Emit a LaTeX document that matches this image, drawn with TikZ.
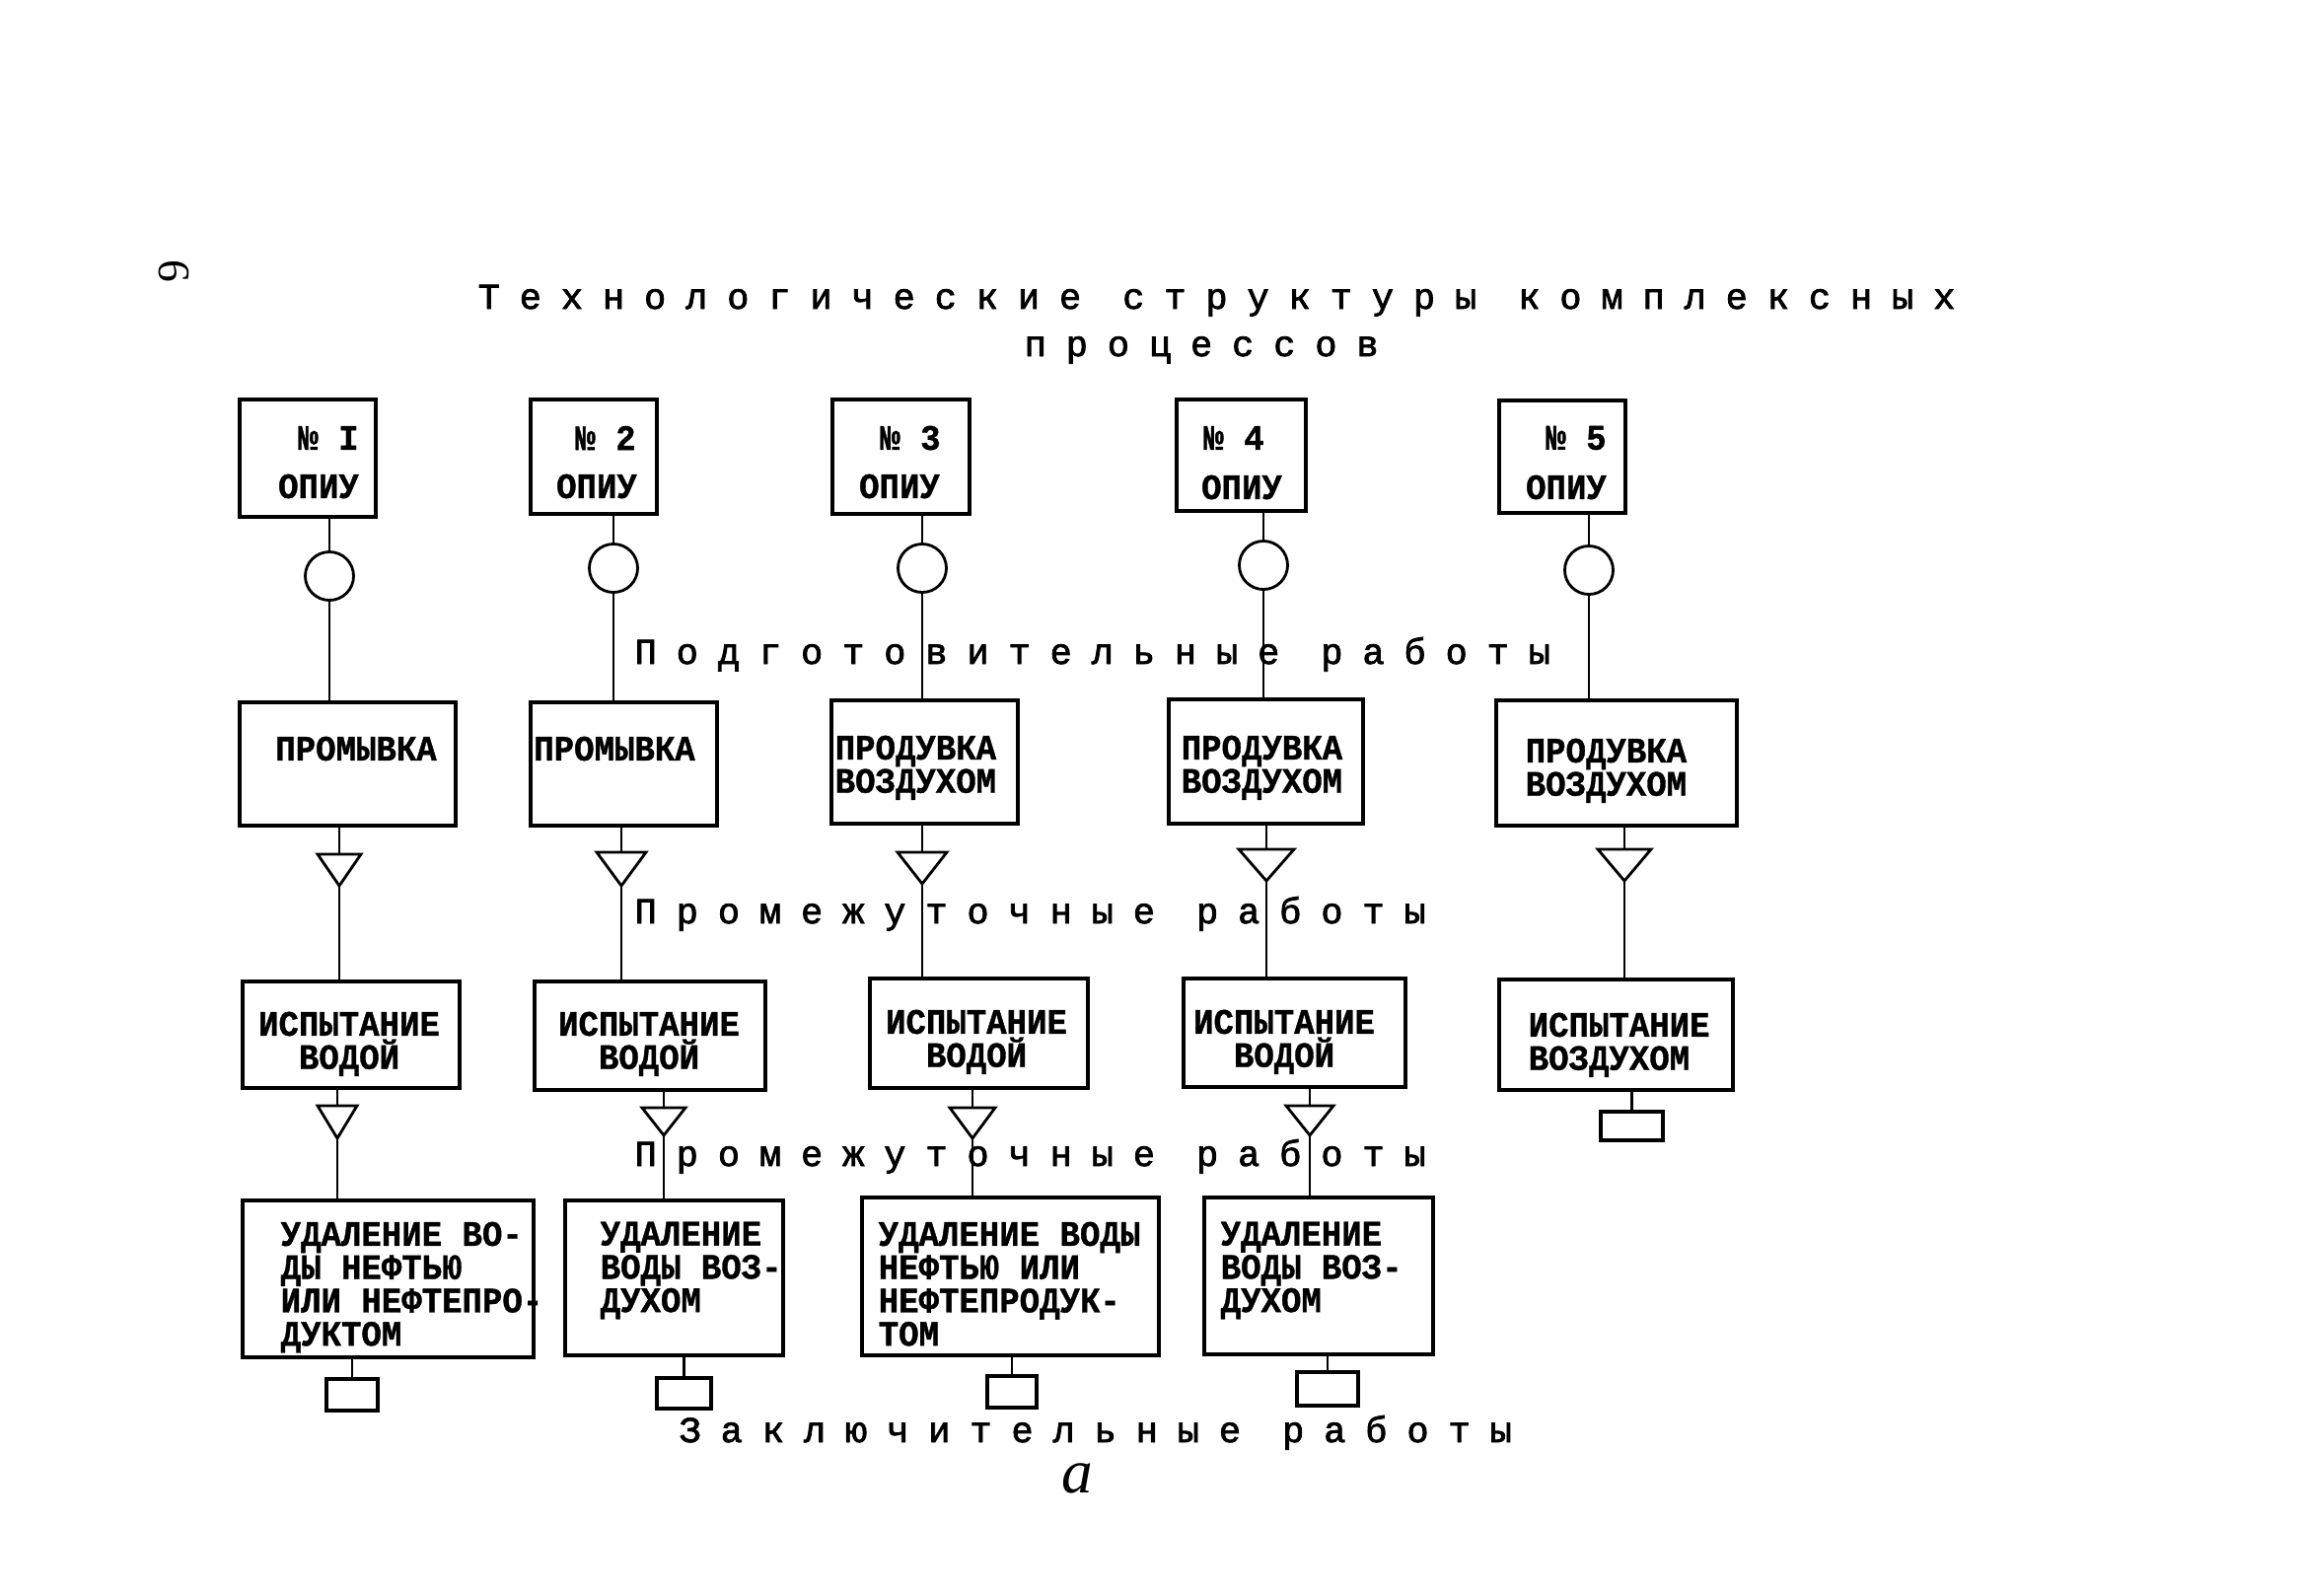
\documentclass[tikz,border=0pt]{standalone}
\usepackage{fontspec}
\setmainfont{Liberation Serif}
\newfontfamily\lbfont{Liberation Mono}[LetterSpace=54,FakeBold=2.2]
\newfontfamily\bxfont{Liberation Mono}[FakeStretch=0.94,FakeBold=1]
\newcommand{\bxsetup}{\bxfont\bfseries\fontsize{10.3}{9.6}\selectfont\setlength{\lineskiplimit}{-20pt}\setlength{\lineskip}{0pt}}
\newcommand{\trian}[5]{%
  \coordinate (#1t) at (#2,#3);
  \coordinate (#1b) at (#2,#4);
  \draw[triline] (#1t) ++(-#5,0) -- ++(2*#5,0) -- (#1b) -- cycle;
}
\begin{document}
\begin{tikzpicture}[x=0.01cm,y=-0.01cm,
  bx/.style={draw,line width=1.1pt,inner sep=0pt,rectangle},
  circ/.style={draw,circle,line width=0.8pt,minimum size=0.49cm,inner sep=0pt},
  triline/.style={line width=0.8pt,line join=miter},
  conn/.style={line width=0.75pt},
  bt/.style={font=\bxsetup,inner sep=0pt},
  lb/.style={font=\lbfont\fontsize{10.5}{12}\selectfont,inner sep=0pt,anchor=base west}]
\useasboundingbox (0,0) rectangle (2335,1618);
\fill[white] (0,0) rectangle (2335,1618);

% page number and title
\node[rotate=-90,font=\fontsize{13}{14}\selectfont,inner sep=0pt] (pg) at (176,275) {6};
\node[lb] (title1) at (484,313) {Технологические структуры комплексных};
\node[lb] (title2) at (1038,361) {процессов};

% section labels
\node[lb] (l1) at (643,673) {Подготовительные работы};
\node[lb] (l2) at (643,936) {Промежуточные работы};
\node[lb] (l3) at (643,1182) {Промежуточные работы};
\node[lb] (l4) at (688,1462) {Заключительные работы};
\node[font=\itshape\fontsize{18}{20}\selectfont,inner sep=0pt,anchor=base] (fa) at (1092,1513) {а};

% ---------- boxes ----------
\node[bx,minimum width=1.38cm,minimum height=1.19cm] (t1) at (312,464.5) {};
\node[bx,minimum width=2.19cm,minimum height=1.25cm] (b1) at (352.5,774.5) {};
\node[bx,minimum width=2.20cm,minimum height=1.08cm] (i1) at (356,1049) {};
\node[bx,minimum width=2.95cm,minimum height=1.59cm] (u1) at (393.5,1296.5) {};
\node[bx,minimum width=0.52cm,minimum height=0.32cm] (e1) at (357,1414) {};

\node[bx,minimum width=1.28cm,minimum height=1.16cm] (t2) at (602,463) {};
\node[bx,minimum width=1.89cm,minimum height=1.25cm] (b2) at (632.5,774.5) {};
\node[bx,minimum width=2.34cm,minimum height=1.10cm] (i2) at (659,1050) {};
\node[bx,minimum width=2.21cm,minimum height=1.57cm] (u2) at (683.5,1295.5) {};
\node[bx,minimum width=0.55cm,minimum height=0.31cm] (e2) at (693.5,1412.5) {};

\node[bx,minimum width=1.39cm,minimum height=1.16cm] (t3) at (913.5,463) {};
\node[bx,minimum width=1.89cm,minimum height=1.25cm] (b3) at (937.5,772.5) {};
\node[bx,minimum width=2.21cm,minimum height=1.11cm] (i3) at (992.5,1047.5) {};
\node[bx,minimum width=3.01cm,minimum height=1.60cm] (u3) at (1024.5,1294) {};
\node[bx,minimum width=0.50cm,minimum height=0.32cm] (e3) at (1026,1411) {};

\node[bx,minimum width=1.31cm,minimum height=1.13cm] (t4) at (1258.5,461.5) {};
\node[bx,minimum width=1.97cm,minimum height=1.26cm] (b4) at (1283.5,772) {};
\node[bx,minimum width=2.25cm,minimum height=1.10cm] (i4) at (1312.5,1047) {};
\node[bx,minimum width=2.32cm,minimum height=1.59cm] (u4) at (1337,1293.5) {};
\node[bx,minimum width=0.62cm,minimum height=0.34cm] (e4) at (1346,1408) {};

\node[bx,minimum width=1.28cm,minimum height=1.14cm] (t5) at (1584,463) {};
\node[bx,minimum width=2.44cm,minimum height=1.27cm] (b5) at (1639,773.5) {};
\node[bx,minimum width=2.37cm,minimum height=1.12cm] (i5) at (1638.5,1049) {};
\node[bx,minimum width=0.63cm,minimum height=0.29cm] (e5) at (1654.5,1141.5) {};

% circles
\node[circ] (c1) at (334,584) {};
\node[circ] (c2) at (622,576) {};
\node[circ] (c3) at (935,576) {};
\node[circ] (c4) at (1281,573) {};
\node[circ] (c5) at (1611,578) {};

% triangles
\trian{q1a}{344}{866}{898}{22}
\trian{q1b}{342}{1121}{1154}{20}
\trian{q2a}{630}{864}{898}{25}
\trian{q2b}{673}{1123}{1151}{22}
\trian{q3a}{935}{864}{896}{25}
\trian{q3b}{986}{1123}{1154}{23}
\trian{q4a}{1284}{861}{893}{28}
\trian{q4b}{1328}{1121}{1151}{24}
\trian{q5a}{1647}{861}{893}{27}

% ---------- texts ----------
\node[bt] (n1) at (333,444) {№ I};
\node[bt] (o1) at (323,493) {ОПИУ};
\node[bt] (n2) at (614,444) {№ 2};
\node[bt] (o2) at (605,493) {ОПИУ};
\node[bt] (n3) at (923,444) {№ 3};
\node[bt] (o3) at (912,493) {ОПИУ};
\node[bt] (n4) at (1251,444) {№ 4};
\node[bt] (o4) at (1259,494) {ОПИУ};
\node[bt] (n5) at (1598,444) {№ 5};
\node[bt] (o5) at (1588,494) {ОПИУ};

\node[bt] (pb1) at (361,759) {ПРОМЫВКА};
\node[bt] (pb2) at (623,759) {ПРОМЫВКА};
\node[bt,anchor=north west,align=left] (pb3) at (846,745) {ПРОДУВКА\\ВОЗДУХОМ};
\node[bt,anchor=north west,align=left] (pb4) at (1197,745) {ПРОДУВКА\\ВОЗДУХОМ};
\node[bt,anchor=north west,align=left] (pb5) at (1546,748) {ПРОДУВКА\\ВОЗДУХОМ};

\node[bt,anchor=north,align=center] (it1) at (354,1025) {ИСПЫТАНИЕ\\ВОДОЙ};
\node[bt,anchor=north,align=center] (it2) at (658,1025) {ИСПЫТАНИЕ\\ВОДОЙ};
\node[bt,anchor=north,align=center] (it3) at (990,1023) {ИСПЫТАНИЕ\\ВОДОЙ};
\node[bt,anchor=north,align=center] (it4) at (1302,1023) {ИСПЫТАНИЕ\\ВОДОЙ};
\node[bt,anchor=north west,align=left] (it5) at (1549,1026) {ИСПЫТАНИЕ\\ВОЗДУХОМ};

\node[bt,anchor=north west,align=left] (ud1) at (284,1238) {УДАЛЕНИЕ ВО-\\ДЫ НЕФТЬЮ\\ИЛИ НЕФТЕПРО-\\ДУКТОМ};
\node[bt,anchor=north west,align=left] (ud2) at (608,1238) {УДАЛЕНИЕ\\ВОДЫ ВОЗ-\\ДУХОМ};
\node[bt,anchor=north west,align=left] (ud3) at (890,1238) {УДАЛЕНИЕ ВОДЫ\\НЕФТЬЮ ИЛИ\\НЕФТЕПРОДУК-\\ТОМ};
\node[bt,anchor=north west,align=left] (ud4) at (1237,1238) {УДАЛЕНИЕ\\ВОДЫ ВОЗ-\\ДУХОМ};

% ---------- connectors ----------
\foreach \k in {1,...,5}{
  \draw[conn] (t\k.south -| c\k) -- (c\k.north);
  \draw[conn] (c\k.south) -- (b\k.north -| c\k);
}
\foreach \k in {1,...,4}{
  \draw[conn] (b\k.south -| q\k at) -- (q\k at);
  \draw[conn] (q\k ab) -- (i\k.north -| q\k ab);
  \draw[conn] (i\k.south -| q\k bt) -- (q\k bt);
  \draw[conn] (q\k bb) -- (u\k.north -| q\k bb);
  \draw[conn] (u\k.south -| e\k.north) -- (e\k.north);
}
\draw[conn] (b5.south -| q5at) -- (q5at);
\draw[conn] (q5ab) -- (i5.north -| q5ab);
\draw[conn] (i5.south -| e5.north) -- (e5.north);
\end{tikzpicture}
\end{document}
